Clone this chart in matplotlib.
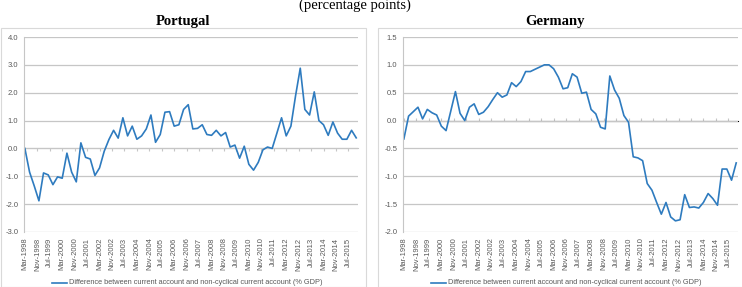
import numpy as np
import pandas as pd
import matplotlib
matplotlib.use("Agg")
import matplotlib.pyplot as plt
from matplotlib.patches import Rectangle

# quarterly observations, Mar-1998 .. Dec-2015
quarters = pd.date_range("1998-03-01", periods=72, freq="3MS")

portugal = [0.0, -0.85, -1.35, -1.88, -0.88, -0.95, -1.3, -1.02, -1.07, -0.17,
            -0.85, -1.2, 0.2, -0.32, -0.38, -0.97, -0.7, -0.1, 0.32, 0.65,
            0.37, 1.1, 0.45, 0.8, 0.33, 0.45, 0.7, 1.2, 0.22, 0.5,
            1.3, 1.32, 0.8, 0.85, 1.4, 1.57, 0.7, 0.72, 0.85, 0.5,
            0.47, 0.65, 0.45, 0.57, 0.05, 0.12, -0.35, 0.08, -0.57, -0.78,
            -0.5, -0.05, 0.05, 0.0, 0.55, 1.1, 0.45, 0.8, 1.9, 2.88,
            1.4, 1.2, 2.03, 1.0, 0.85, 0.47, 0.95, 0.55, 0.33, 0.33,
            0.65, 0.38]

germany = [-0.33, 0.08, 0.16, 0.24, 0.03, 0.2, 0.14, 0.1, -0.1, -0.18,
           0.17, 0.52, 0.13, 0.0, 0.24, 0.3, 0.11, 0.15, 0.25, 0.38,
           0.5, 0.42, 0.46, 0.68, 0.61, 0.7, 0.88, 0.88, 0.92, 0.96,
           1.0, 1.0, 0.93, 0.78, 0.57, 0.59, 0.84, 0.78, 0.49, 0.51,
           0.2, 0.12, -0.12, -0.15, 0.8, 0.55, 0.4, 0.09, -0.03, -0.65,
           -0.67, -0.72, -1.13, -1.25, -1.47, -1.68, -1.47, -1.73, -1.8, -1.78,
           -1.33, -1.56, -1.55, -1.57, -1.47, -1.31, -1.4, -1.52, -0.87, -0.87,
           -1.07, -0.76]

tick_labels = ["Mar-1998", "Nov-1998", "Jul-1999", "Mar-2000", "Nov-2000", "Jul-2001",
               "Mar-2002", "Nov-2002", "Jul-2003", "Mar-2004", "Nov-2004", "Jul-2005",
               "Mar-2006", "Nov-2006", "Jul-2007", "Mar-2008", "Nov-2008", "Jul-2009",
               "Mar-2010", "Nov-2010", "Jul-2011", "Mar-2012", "Nov-2012", "Jul-2013",
               "Mar-2014", "Nov-2014", "Jul-2015"]
tick_pos = pd.to_datetime(tick_labels, format="%b-%Y")

legend_text = "Difference between current account and non-cyclical current account (% GDP)"

W, H = 742, 287
line_col = "#2e7bbf"
grid_col = "#c6c6c6"
txt_col = "#595959"

fig = plt.figure(figsize=(W / 100, H / 100), dpi=100)

# chart area borders
fig.patches.append(Rectangle((1 / W, 0), 365 / W, 1 - 28 / H, transform=fig.transFigure,
                             fill=False, edgecolor="#d9d9d9", lw=0.8))
fig.patches.append(Rectangle((378 / W, 0), 370 / W, 1 - 28 / H, transform=fig.transFigure,
                             fill=False, edgecolor="#d9d9d9", lw=0.8))

fig.text(355 / W, 1 - 9 / H, "(percentage points)", ha="center", va="baseline",
         family="Liberation Serif", fontsize=10.5)


def panel(x0, x1, title, vals, ylim, yticks, title_x):
    ax = fig.add_axes([x0 / W, 1 - 232 / H, (x1 - x0) / W, (232 - 37) / H])
    ax.plot(quarters, vals, color=line_col, lw=1.2)
    ax.set_xlim(pd.Timestamp("1998-02-12"), pd.Timestamp("2016-01-05"))
    ax.set_ylim(*ylim)
    ax.set_yticks(yticks)
    ax.set_yticklabels([f"{v:.1f}" for v in yticks])
    ax.yaxis.grid(True, color=grid_col, lw=0.9)
    ax.set_axisbelow(True)
    for s in ["top", "right", "bottom"]:
        ax.spines[s].set_visible(False)
    ax.spines["left"].set_color(grid_col)
    ax.set_xticks(tick_pos)
    ax.set_xticklabels(tick_labels, rotation=90, fontsize=5.5, color=txt_col,
                       family="Liberation Sans")
    ax.tick_params(axis="x", length=0, pad=4)
    ax.tick_params(axis="y", length=0, labelsize=5.5, labelcolor=txt_col, pad=4)
    for lab in ax.get_yticklabels():
        lab.set_family("Liberation Sans")
    # horizontal axis crossing at zero with small tick marks
    y0 = (0 - ylim[0]) / (ylim[1] - ylim[0])
    sec = ax.secondary_xaxis(y0)
    sec.set_xticks(tick_pos)
    sec.set_xticklabels([])
    sec.tick_params(axis="x", direction="out", length=2.5, color=grid_col, width=0.8)
    sec.spines["bottom"].set_color(grid_col)
    fig.text(title_x / W, 1 - 25 / H, title, ha="center", va="baseline",
             family="Liberation Serif", fontweight="bold", fontsize=10.5)
    # legend below chart
    lx0 = x0 + 28
    fig.add_artist(plt.Line2D([lx0 / W, (lx0 + 15) / W], [1 - 283 / H, 1 - 283 / H],
                              color=line_col, lw=1.2, transform=fig.transFigure))
    fig.text((lx0 + 17) / W, 1 - 283 / H, legend_text, ha="left", va="center",
             fontsize=5.3, color=txt_col, family="Liberation Sans")
    return ax


panel(24, 358, "Portugal", portugal, (-3.0, 4.0), np.arange(-3.0, 4.01, 1.0), 183)
panel(403, 738, "Germany", germany, (-2.0, 1.5), np.arange(-2.0, 1.51, 0.5), 555)

fig.savefig("out.png", dpi=100)
